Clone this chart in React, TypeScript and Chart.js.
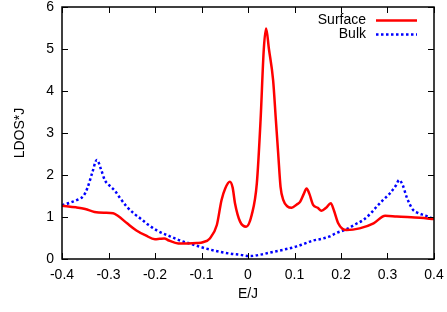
import React, { useEffect, useRef } from 'react';
import { Chart, registerables } from 'chart.js';

Chart.register(...registerables);

const surfaceE = [-0.40, -0.37, -0.35, -0.33, -0.31, -0.29, -0.28, -0.26, -0.24, -0.22, -0.20, -0.19, -0.18, -0.17, -0.15, -0.13, -0.11, -0.097, -0.082, -0.067, -0.057, -0.049, -0.039, -0.033, -0.028, -0.017, -0.004, 0.008, 0.019, 0.027, 0.034, 0.039, 0.045, 0.054, 0.060, 0.065, 0.070, 0.076, 0.085, 0.094, 0.105, 0.112, 0.120, 0.126, 0.132, 0.140, 0.150, 0.158, 0.168, 0.178, 0.185, 0.194, 0.203, 0.212, 0.240, 0.270, 0.295, 0.320, 0.370, 0.400];
const surfaceV = [1.27, 1.23, 1.19, 1.12, 1.10, 1.09, 1.03, 0.85, 0.68, 0.56, 0.47, 0.48, 0.49, 0.44, 0.37, 0.37, 0.38, 0.40, 0.49, 0.81, 1.40, 1.68, 1.84, 1.70, 1.33, 0.89, 0.77, 1.05, 1.80, 3.30, 5.00, 5.49, 5.00, 4.26, 3.30, 2.50, 1.72, 1.40, 1.25, 1.22, 1.30, 1.36, 1.55, 1.68, 1.55, 1.29, 1.22, 1.15, 1.22, 1.33, 1.15, 0.85, 0.72, 0.69, 0.73, 0.85, 1.03, 1.01, 0.98, 0.95];

const bulkE = [-0.40, -0.383, -0.365, -0.354, -0.345, -0.335, -0.325, -0.315, -0.308, -0.295, -0.286, -0.275, -0.261, -0.245, -0.232, -0.215, -0.196, -0.17, -0.146, -0.12, -0.103, -0.08, -0.06, -0.04, -0.017, 0.004, 0.03, 0.054, 0.08, 0.105, 0.12, 0.14, 0.158, 0.176, 0.19, 0.212, 0.23, 0.248, 0.265, 0.277, 0.29, 0.305, 0.318, 0.325, 0.333, 0.341, 0.348, 0.355, 0.365, 0.377, 0.39, 0.40];
const bulkV = [1.28, 1.34, 1.42, 1.50, 1.70, 2.05, 2.36, 2.10, 1.88, 1.72, 1.62, 1.45, 1.25, 1.08, 0.97, 0.82, 0.68, 0.55, 0.44, 0.35, 0.29, 0.22, 0.17, 0.13, 0.10, 0.07, 0.11, 0.17, 0.23, 0.30, 0.36, 0.44, 0.48, 0.54, 0.62, 0.71, 0.82, 0.93, 1.10, 1.25, 1.40, 1.56, 1.75, 1.88, 1.75, 1.48, 1.30, 1.17, 1.10, 1.05, 1.00, 0.94];

const xTickValues = [-0.4, -0.3, -0.2, -0.1, 0, 0.1, 0.2, 0.3, 0.4];
const yTickValues = [0, 1, 2, 3, 4, 5, 6];
const seriesNames = ['Surface', 'Bulk'];
const xTitle = 'E/J';
const yTitle = 'LDOS*J';

const FONT = '"Liberation Sans", Arial, Helvetica, sans-serif';

export default function App() {
  const ref = useRef<HTMLCanvasElement>(null);

  useEffect(() => {
    if (!ref.current) return;
    const frame = {
      id: 'frame',
      afterDatasetsDraw(chart: any) {
        const { ctx, chartArea: a, scales } = chart;
        ctx.save();
        ctx.strokeStyle = '#000';
        ctx.lineWidth = 1;
        const tl = 6;
        xTickValues.forEach((v) => {
          const px = Math.round(scales.x.getPixelForValue(v)) + 0.5;
          ctx.beginPath();
          ctx.moveTo(px, a.bottom);
          ctx.lineTo(px, a.bottom - tl);
          ctx.moveTo(px, a.top);
          ctx.lineTo(px, a.top + tl);
          ctx.stroke();
        });
        yTickValues.forEach((v) => {
          const py = Math.round(scales.y.getPixelForValue(v)) + 0.5;
          ctx.beginPath();
          ctx.moveTo(a.left, py);
          ctx.lineTo(a.left + tl, py);
          ctx.moveTo(a.right, py);
          ctx.lineTo(a.right - tl, py);
          ctx.stroke();
        });
        ctx.lineWidth = 1.5;
        ctx.strokeRect(a.left, a.top, a.right - a.left, a.bottom - a.top);

        // legend
        ctx.font = `14px ${FONT}`;
        ctx.fillStyle = '#000';
        ctx.textAlign = 'right';
        ctx.textBaseline = 'middle';
        const lx = 366;
        const rows = [20.5, 34.5];
        ctx.fillText(seriesNames[0], lx, rows[0]);
        ctx.fillText(seriesNames[1], lx, rows[1]);
        ctx.lineWidth = 2.5;
        ctx.strokeStyle = '#ff0000';
        ctx.beginPath();
        ctx.moveTo(376, rows[0]);
        ctx.lineTo(417, rows[0]);
        ctx.stroke();
        ctx.strokeStyle = '#0000ff';
        ctx.setLineDash([2.5, 2.5]);
        ctx.beginPath();
        ctx.moveTo(376, rows[1]);
        ctx.lineTo(417, rows[1]);
        ctx.stroke();
        ctx.setLineDash([]);

        // axis titles
        ctx.textAlign = 'center';
        ctx.fillText(xTitle, (a.left + a.right) / 2, 294);
        ctx.translate(20, (a.top + a.bottom) / 2);
        ctx.rotate(-Math.PI / 2);
        ctx.fillText(yTitle, 0, 0);
        ctx.restore();
      },
    };

    const chart = new Chart(ref.current, {
      type: 'line',
      data: {
        datasets: [
          {
            label: seriesNames[0],
            data: surfaceE.map((x, i) => ({ x, y: surfaceV[i] })),
            borderColor: '#ff0000',
            borderWidth: 2.5,
            pointRadius: 0,
            cubicInterpolationMode: 'monotone',
            fill: false,
          },
          {
            label: seriesNames[1],
            data: bulkE.map((x, i) => ({ x, y: bulkV[i] })),
            borderColor: '#0000ff',
            borderWidth: 2.5,
            borderDash: [2.5, 2.5],
            pointRadius: 0,
            cubicInterpolationMode: 'monotone',
            fill: false,
          },
        ],
      },
      options: {
        animation: false,
        responsive: false,
        maintainAspectRatio: false,
        layout: { padding: { top: 7, right: 13, left: 0, bottom: 0 } },
        plugins: { legend: { display: false }, tooltip: { enabled: false } },
        scales: {
          x: {
            type: 'linear',
            min: -0.4,
            max: 0.4,
            grid: { display: false, drawTicks: false },
            border: { display: false },
            ticks: {
              stepSize: 0.1,
              padding: 8,
              color: '#000',
              font: { family: FONT, size: 14 },
              maxRotation: 0,
              callback: (v: any) => String(Number(Number(v).toFixed(1))),
            },
            afterFit: (s: any) => {
              s.height = 53;
              s.paddingLeft = 0;
              s.paddingRight = 0;
            },
          },
          y: {
            type: 'linear',
            min: 0,
            max: 6,
            grid: { display: false, drawTicks: false },
            border: { display: false },
            ticks: {
              stepSize: 1,
              padding: 8,
              color: '#000',
              font: { family: FONT, size: 14 },
            },
            afterFit: (s: any) => {
              s.width = 62;
              s.paddingTop = 0;
              s.paddingBottom = 0;
            },
          },
        },
      },
      plugins: [frame],
    });
    return () => chart.destroy();
  }, []);

  return (
    <div style={{ position: 'fixed', left: 0, top: 0, width: 447, height: 312, background: '#fff' }}>
      <canvas ref={ref} width={447} height={312} style={{ width: 447, height: 312 }} />
    </div>
  );
}
